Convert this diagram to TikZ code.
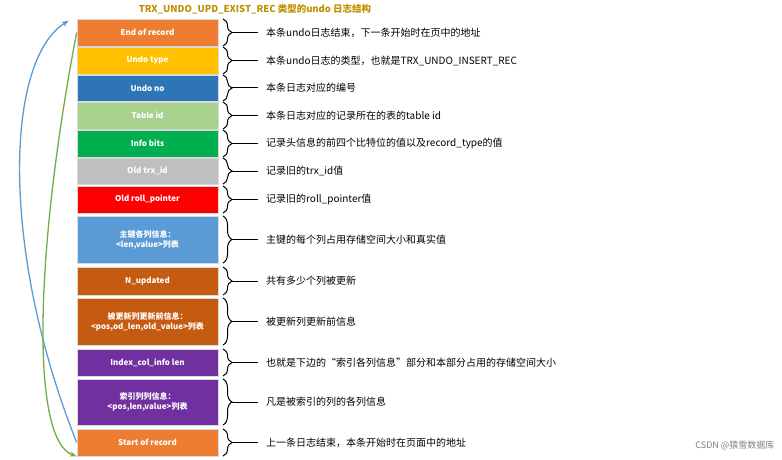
\documentclass[tikz,border=0pt]{standalone}
\usepackage{fontspec}
\setmainfont{Noto Sans CJK SC}
\usetikzlibrary{decorations.pathreplacing,arrows.meta}
\definecolor{cOr}{HTML}{ED7D31}\definecolor{cYe}{HTML}{FFC000}\definecolor{cBl}{HTML}{2E75B6}
\definecolor{cLg}{HTML}{A9D18E}\definecolor{cGr}{HTML}{00B050}\definecolor{cGy}{HTML}{BFBFBF}
\definecolor{cRe}{HTML}{FF0000}\definecolor{cLb}{HTML}{5B9BD5}\definecolor{cDo}{HTML}{C55A11}
\definecolor{cPu}{HTML}{7030A0}\definecolor{cTi}{HTML}{BF9000}\definecolor{cGa}{HTML}{70AD47}
\begin{document}
\begin{tikzpicture}[x=1pt,y=-1pt,
 fld/.style={draw=white!85!black,line width=0.6pt,text=white,font=\bfseries\fontsize{8}{10}\selectfont,align=center,inner sep=0pt},
 brc/.style={decorate,decoration={brace,amplitude=9pt},line width=1pt},
 lbl/.style={anchor=west,font=\fontsize{10}{12}\selectfont,inner sep=0pt}]
\useasboundingbox (0,0) rectangle (782,460);
\node[font=\bfseries\fontsize{9.5}{11}\selectfont,text=cTi] (title) at (255,9) {TRX\_UNDO\_UPD\_EXIST\_REC 类型的undo 日志结构};
\def\fieldlist{cOr/19/46/End of record/本条undo日志结束，下一条开始时在页中的地址,
cYe/47/74/Undo type/本条undo日志的类型，也就是TRX\_UNDO\_INSERT\_REC,
cBl/75/101/Undo no/本条日志对应的编号,
cLg/102/129/Table id/本条日志对应的记录所在的表的table id,
cGr/130/157/Info bits/记录头信息的前四个比特位的值以及record\_type的值,
cGy/158/184/Old trx\_id/记录旧的trx\_id值,
cRe/186/213/Old roll\_pointer/记录旧的roll\_pointer值,
cLb/216/263/{主键各列信息：\\<len,value>列表}/主键的每个列占用存储空间大小和真实值,
cDo/267/295/N\_updated/共有多少个列被更新,
cDo/298/345/{被更新列更新前信息：\\<pos,od\_len,old\_value>列表}/被更新列更新前信息,
cPu/349/376/Index\_col\_info len/也就是下边的“索引各列信息”部分和本部分占用的存储空间大小,
cPu/379/425/{索引列列信息：\\<pos,len,value>列表}/凡是被索引的列的各列信息,
cOr/429/456/Start of record/上一条日志结束，本条开始时在页面中的地址}
\foreach \c/\t/\b/\n/\d [count=\i] in \fieldlist {
  \node[fld,fill=\c,minimum width=141pt,minimum height={\b-\t}] (f\i) at (147.5,{(\t+\b)/2}) {\n};
  \draw[brc] (223,\t) -- (223,\b);
  \coordinate (m\i) at (232,{(\t+\b)/2});
  \node[lbl] (d\i) at (266,{(\t+\b)/2}) {\d};
  \draw[line width=1pt] (m\i) -- ([xshift=-8pt]d\i.west);
}
\draw[cLb,line width=1.3pt,-{Stealth[length=7pt]}] (f13.west) .. controls (0,250) and (5,60) .. ([shift={(-8pt,-2pt)}]f1.north west);
\draw[cGa,line width=1.3pt,-{Stealth[length=7pt]}] (f1.west) .. controls (35,250) and (30,440) .. (f13.south west);
\node[anchor=east,text=gray,font=\fontsize{9}{11}\selectfont] (wm) at (778,445) {CSDN @猿雪数据库};
\end{tikzpicture}
\end{document}
